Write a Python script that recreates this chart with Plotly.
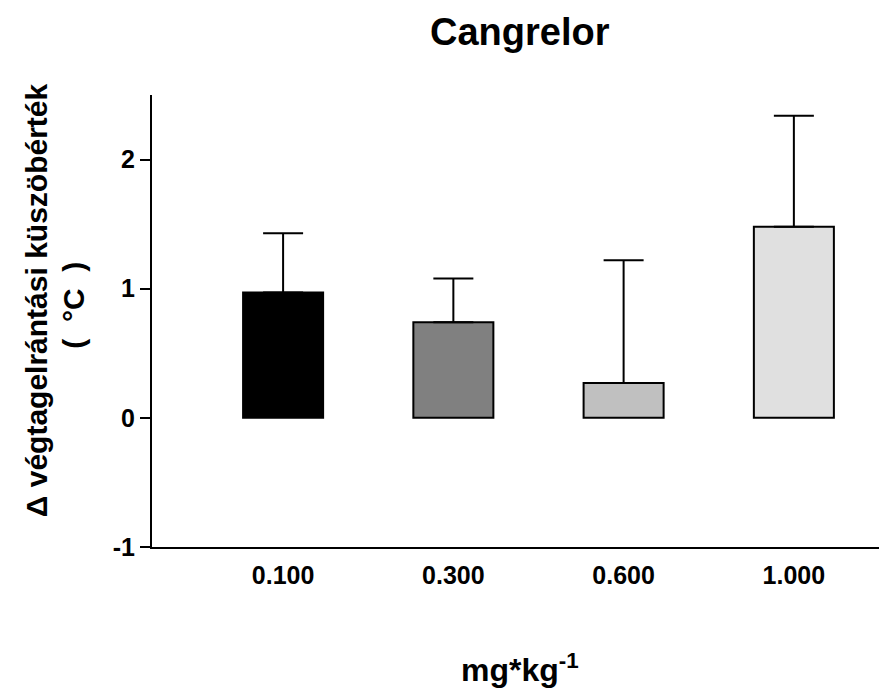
import plotly.graph_objects as go

doses = ["0.100", "0.300", "0.600", "1.000"]
means = [0.97, 0.74, 0.27, 1.48]
err_plus = [0.46, 0.34, 0.95, 0.86]
err_minus = [0, 0, 0, 0]
colors = ["#000000", "#808080", "#c0c0c0", "#e0e0e0"]
yticks = [-1, 0, 1, 2]
ytick_labels = ["-1", "0", "1", "2"]

FONT = "Liberation Sans, Arial, sans-serif"

fig = go.Figure()
fig.add_trace(go.Bar(
    x=doses, y=means, width=0.47,
    marker=dict(color=colors, line=dict(color="black", width=2)),
    error_y=dict(type="data", symmetric=False, array=err_plus, arrayminus=err_minus,
                 color="black", thickness=2, width=20),
    showlegend=False,
))

fig.update_layout(
    width=879, height=691,
    margin=dict(l=152, r=0, t=95, b=144),
    paper_bgcolor="white", plot_bgcolor="white",
    font=dict(family=FONT, color="black"),
    xaxis=dict(type="category", range=[-0.77, 3.5], showline=True, linecolor="black",
               linewidth=2, ticks="outside", ticklen=5, tickcolor="rgba(0,0,0,0)",
               tickfont=dict(size=25, family=FONT, weight="bold"),
               showgrid=False, zeroline=False),
    yaxis=dict(range=[-1, 2.5], tickvals=yticks, ticktext=ytick_labels, showline=True,
               linecolor="black", linewidth=2, ticks="outside", ticklen=10, tickwidth=2,
               tickcolor="black", tickfont=dict(size=25, family=FONT, weight="bold"),
               showgrid=False, zeroline=False),
    annotations=[
        dict(text="<b>Cangrelor</b>", xref="paper", yref="paper", x=0.506, y=1.139,
             xanchor="center", yanchor="middle", showarrow=False,
             font=dict(size=38, family=FONT)),
        dict(text="<b>Δ végtagelrántási küszöbérték</b>", xref="paper", yref="paper",
             x=-0.1596, y=0.546, xanchor="center", yanchor="middle", textangle=-90,
             showarrow=False, font=dict(size=30, family=FONT)),
        dict(text="<b>(&nbsp; °C &nbsp;)</b>", xref="paper", yref="paper",
             x=-0.108, y=0.535, xanchor="center", yanchor="middle", textangle=-90,
             showarrow=False, font=dict(size=30, family=FONT)),
        dict(text="<b>mg*kg<sup>-1</sup></b>", xref="paper", yref="paper",
             x=0.506, y=-0.268, xanchor="center", yanchor="middle",
             showarrow=False, font=dict(size=32, family=FONT)),
    ],
)
fig.write_html("out.html")
